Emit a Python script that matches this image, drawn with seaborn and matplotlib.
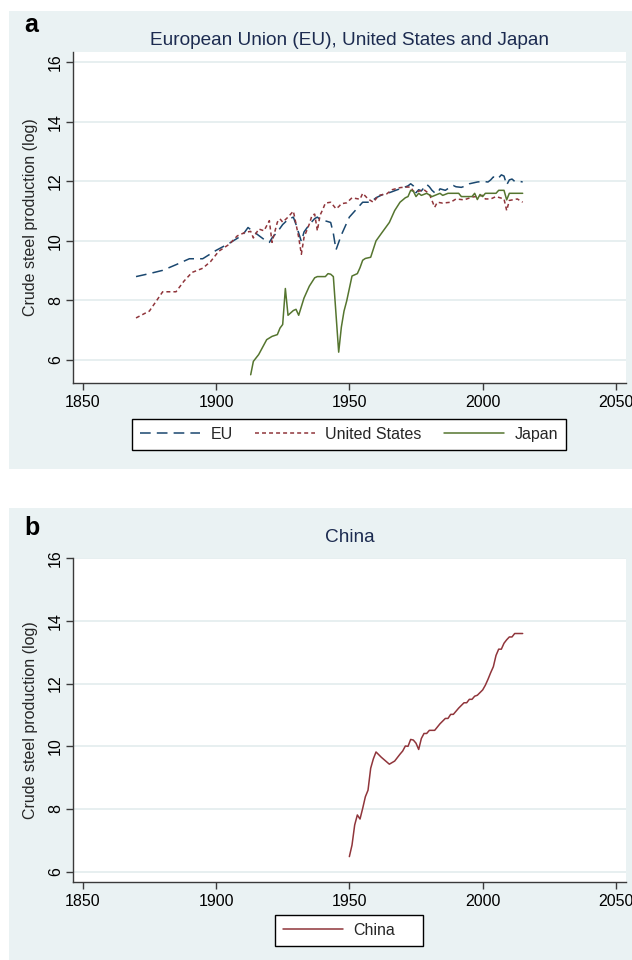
import matplotlib
matplotlib.use("Agg")
import matplotlib.pyplot as plt
import seaborn as sns
import pandas as pd
from matplotlib.patches import Rectangle

# ---------------- data ----------------
eu_years = [1870, 1875, 1880, 1885, 1890, 1895, 1900, 1905, 1910, 1912, 1913, 1915,
            1918, 1920, 1921, 1923, 1925, 1927, 1929, 1930, 1932, 1933, 1935, 1937,
            1938, 1939, 1940, 1943, 1944, 1945, 1946, 1947, 1950, 1952, 1955, 1958,
            1960, 1963, 1965, 1968, 1970, 1972, 1973, 1974, 1975, 1976, 1977, 1979,
            1980, 1981, 1982, 1983, 1984, 1986, 1988, 1989, 1990, 1992, 1993, 1995,
            1997, 1998, 2000, 2002, 2003, 2004, 2005, 2006, 2007, 2008, 2009, 2010,
            2011, 2012, 2014, 2015]
eu_vals = [8.80, 8.90, 9.01, 9.20, 9.40, 9.40, 9.68, 9.92, 10.20, 10.45, 10.38, 10.25,
           10.05, 9.95, 10.10, 10.30, 10.55, 10.72, 10.80, 10.55, 9.98, 10.30, 10.55, 10.75,
           10.80, 10.72, 10.70, 10.62, 10.25, 9.70, 9.95, 10.20, 10.80, 11.00, 11.30, 11.30,
           11.45, 11.58, 11.62, 11.72, 11.78, 11.85, 11.92, 11.85, 11.62, 11.72, 11.68, 11.90,
           11.82, 11.70, 11.62, 11.60, 11.75, 11.70, 11.82, 11.86, 11.82, 11.80, 11.83, 11.92,
           11.96, 11.98, 12.00, 11.98, 12.05, 12.15, 12.08, 12.12, 12.22, 12.18, 11.88, 12.05,
           12.08, 12.00, 12.00, 11.98]

us_years = [1870, 1873, 1875, 1878, 1880, 1885, 1888, 1891, 1895, 1898, 1901, 1905,
            1908, 1911, 1913, 1914, 1916, 1918, 1920, 1921, 1923, 1924, 1925, 1927,
            1929, 1930, 1931, 1932, 1933, 1935, 1936, 1937, 1938, 1939, 1940, 1941,
            1943, 1945, 1946, 1947, 1949, 1951, 1954, 1955, 1957, 1959, 1961, 1964,
            1966, 1969, 1971, 1973, 1974, 1976, 1978, 1980, 1982, 1983, 1985, 1988,
            1990, 1993, 1996, 2000, 2001, 2003, 2005, 2008, 2009, 2010, 2013, 2015]
us_vals = [7.41, 7.55, 7.64, 8.03, 8.29, 8.29, 8.65, 8.94, 9.08, 9.31, 9.65, 9.89,
           10.17, 10.29, 10.32, 10.10, 10.40, 10.34, 10.68, 9.95, 10.63, 10.74, 10.63, 10.80,
           11.00, 10.57, 10.12, 9.55, 10.12, 10.57, 10.86, 10.90, 10.34, 10.86, 11.05, 11.27,
           11.30, 11.08, 11.15, 11.25, 11.28, 11.45, 11.40, 11.60, 11.41, 11.30, 11.53, 11.58,
           11.72, 11.79, 11.81, 11.81, 11.67, 11.67, 11.72, 11.58, 11.13, 11.30, 11.27, 11.30,
           11.41, 11.38, 11.47, 11.53, 11.41, 11.41, 11.49, 11.41, 11.02, 11.36, 11.41, 11.30]

jp_years = [1913, 1914, 1916, 1919, 1921, 1923, 1924, 1925, 1926, 1927, 1929, 1930,
            1931, 1933, 1935, 1937, 1938, 1941, 1942, 1943, 1944, 1946, 1947, 1948,
            1949, 1951, 1953, 1954, 1955, 1956, 1958, 1960, 1962, 1965, 1967, 1969,
            1971, 1972, 1973, 1974, 1975, 1976, 1977, 1979, 1981, 1984, 1985, 1987,
            1991, 1992, 1996, 1997, 1998, 1999, 2000, 2001, 2005, 2006, 2008, 2009,
            2010, 2015]
jp_vals = [5.50, 5.95, 6.18, 6.68, 6.79, 6.85, 7.07, 7.19, 8.40, 7.50, 7.66, 7.70,
           7.50, 8.08, 8.48, 8.76, 8.80, 8.80, 8.90, 8.88, 8.80, 6.26, 7.10, 7.64,
           7.98, 8.82, 8.90, 9.10, 9.35, 9.41, 9.45, 10.00, 10.25, 10.62, 11.02, 11.30,
           11.45, 11.49, 11.70, 11.67, 11.49, 11.60, 11.53, 11.60, 11.49, 11.60, 11.53, 11.60,
           11.60, 11.49, 11.49, 11.60, 11.39, 11.56, 11.49, 11.60, 11.60, 11.70, 11.70, 11.38,
           11.60, 11.60]

cn_years = [1950, 1951, 1952, 1953, 1954, 1955, 1956, 1957, 1958, 1959, 1960, 1962,
            1965, 1967, 1969, 1970, 1971, 1972, 1973, 1974, 1975, 1976, 1977, 1978,
            1979, 1980, 1982, 1984, 1986, 1987, 1988, 1989, 1991, 1993, 1994, 1995,
            1996, 1997, 1998, 2000, 2001, 2002, 2003, 2004, 2005, 2006, 2007, 2008,
            2009, 2010, 2011, 2012, 2015]
cn_vals = [6.48, 6.85, 7.49, 7.81, 7.68, 8.02, 8.39, 8.60, 9.30, 9.60, 9.82, 9.65,
           9.43, 9.53, 9.75, 9.85, 10.01, 10.00, 10.22, 10.20, 10.10, 9.90, 10.25, 10.41,
           10.41, 10.51, 10.51, 10.72, 10.89, 10.89, 11.02, 11.02, 11.22, 11.39, 11.39, 11.50,
           11.50, 11.60, 11.63, 11.80, 11.95, 12.14, 12.35, 12.54, 12.90, 13.10, 13.10, 13.29,
           13.40, 13.49, 13.49, 13.60, 13.60]

x_ticks = [1850, 1900, 1950, 2000, 2050]
y_ticks = [6, 8, 10, 12, 14, 16]
y_label = "Crude steel production (log)"
title_a = "European Union (EU), United States and Japan"
title_b = "China"

# ---------------- style ----------------
sns.set_theme(style="white")
plt.rcParams["font.family"] = ["Liberation Sans", "DejaVu Sans"]

BG = "#eaf2f3"
GRID = "#e3eced"
NAVY = "#1a476f"
MAROON = "#90353b"
GREEN = "#55752f"
TITLE_C = "#1c2b50"
SPINE = "#3a3a3a"

W, H = 632, 960
fig = plt.figure(figsize=(W / 100, H / 100), dpi=100)
fig.patch.set_facecolor("white")

fig.patches.append(Rectangle((9 / W, 1 - 469 / H), 1 - 9 / W, (469 - 11) / H,
                             transform=fig.transFigure, fc=BG, ec="none", zorder=-10))
fig.patches.append(Rectangle((9 / W, 0), 1 - 9 / W, (H - 508) / H,
                             transform=fig.transFigure, fc=BG, ec="none", zorder=-10))

left, right = 72.7, 626
axa = fig.add_axes([left / W, 1 - 382.5 / H, (right - left) / W, (382.5 - 51.7) / H])
axb = fig.add_axes([left / W, 1 - 881.7 / H, (right - left) / W, (881.7 - 558.3) / H])


def style_axes(ax, ylim):
    ax.set_facecolor("white")
    ax.set_xlim(1846.25, 2053.75)
    ax.set_ylim(*ylim)
    ax.set_xticks(x_ticks)
    ax.set_yticks(y_ticks)
    for s in ["top", "right"]:
        ax.spines[s].set_visible(False)
    for s in ["left", "bottom"]:
        ax.spines[s].set_color(SPINE)
        ax.spines[s].set_linewidth(1.0)
    ax.tick_params(axis="both", direction="out", length=5, width=1.0, color=SPINE,
                   labelsize=11.5, labelcolor="black", left=True, bottom=True)
    ax.tick_params(axis="x", pad=4)
    ax.tick_params(axis="y", pad=2, labelrotation=90)
    for lbl in ax.get_yticklabels():
        lbl.set_va("center")
    ax.set_axisbelow(True)
    ax.yaxis.grid(True, color=GRID, lw=1.2)
    ax.xaxis.grid(False)
    ax.set_xlabel("")
    ax.set_ylabel(y_label, fontsize=11.5, labelpad=7)


sns.lineplot(x=eu_years, y=eu_vals, ax=axa, color=NAVY, lw=1.1, label="EU", legend=False)
axa.lines[-1].set_dashes((7, 4))
sns.lineplot(x=us_years, y=us_vals, ax=axa, color=MAROON, lw=1.1, label="United States", legend=False)
axa.lines[-1].set_dashes((2.6, 2.0))
sns.lineplot(x=jp_years, y=jp_vals, ax=axa, color=GREEN, lw=1.1, label="Japan", legend=False)

sns.lineplot(x=cn_years, y=cn_vals, ax=axb, color=MAROON, lw=1.1, label="China", legend=False)

style_axes(axa, (5.24, 16.36))
style_axes(axb, (5.68, 16.0))

for ax in (axa, axb):
    if ax.get_legend() is not None:
        ax.get_legend().remove()

cx = ((left + right) / 2) / W
fig.text(cx, 1 - 45 / H, title_a, ha="center", va="baseline", fontsize=13.7, color=TITLE_C)
fig.text(cx, 1 - 541.5 / H, title_b, ha="center", va="baseline", fontsize=13.7, color=TITLE_C)
fig.text(24 / W, 1 - 32 / H, "a", ha="left", va="baseline", fontsize=18, fontweight="bold", color="black")
fig.text(24 / W, 1 - 535 / H, "b", ha="left", va="baseline", fontsize=18, fontweight="bold", color="black")


def add_legend(ax, x0, x1, y0, y1, ncol):
    handles, labels = ax.get_legend_handles_labels()
    leg = fig.legend(handles, labels, loc="center",
                     bbox_to_anchor=(x0 / W, 1 - y1 / H, (x1 - x0) / W, (y1 - y0) / H),
                     mode="expand", ncol=ncol, frameon=True, fancybox=False,
                     edgecolor="black", facecolor="white", framealpha=1,
                     handlelength=3.75, handletextpad=0.65, columnspacing=1.5,
                     fontsize=11.5, borderpad=0.5, borderaxespad=0)
    leg.get_frame().set_linewidth(1.0)
    return leg


add_legend(axa, 132, 566, 419.5, 449.5, 3)
add_legend(axb, 275, 423, 915.5, 945.5, 1)

fig.savefig("out.png", dpi=100)
